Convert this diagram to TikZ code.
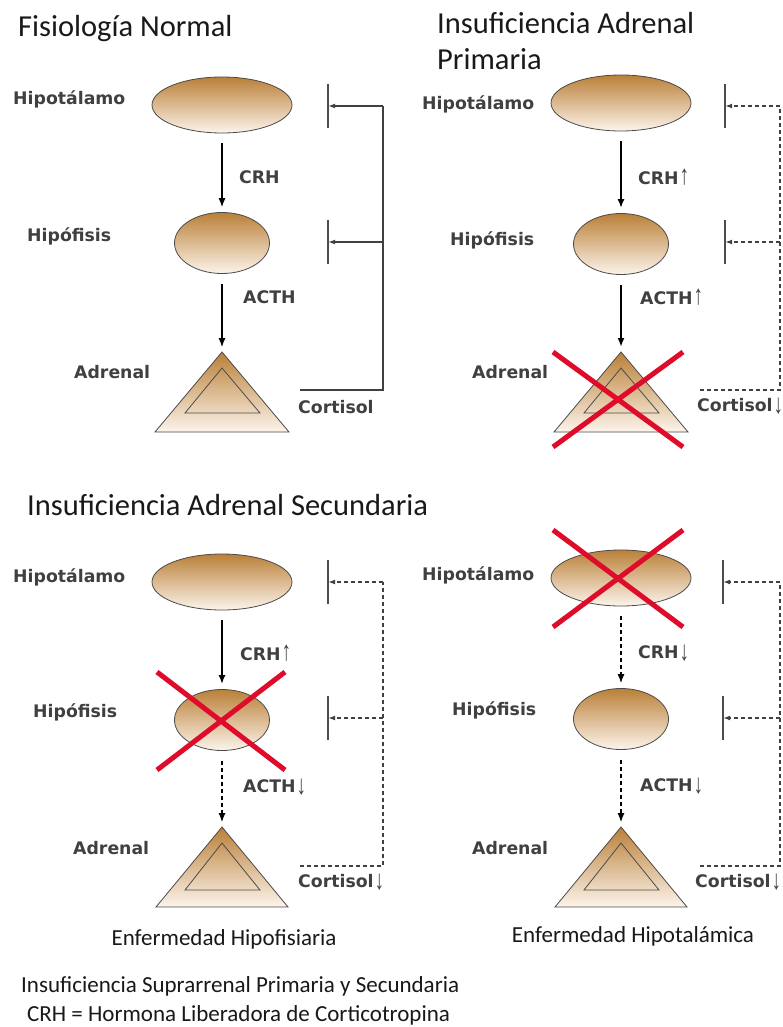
\documentclass[tikz,border=0pt]{standalone}
\usepackage{fontspec}
\usepackage{graphicx}
\setmainfont{Carlito}
\newfontfamily\labfont{DejaVu Sans}
\newfontfamily\arrfont{Liberation Sans}
\usetikzlibrary{shapes.geometric,arrows.meta}
\definecolor{glandtop}{RGB}{186,128,56}
\definecolor{glandbot}{RGB}{252,244,235}
\definecolor{crossred}{RGB}{222,12,42}
\definecolor{inkgray}{RGB}{75,75,75}
\newcommand{\hup}{\kern1pt\scalebox{1.1}[1.6]{\arrfont\bfseries ↑}}
\newcommand{\hdown}{\kern1pt\raisebox{-2pt}{\scalebox{1.1}[1.6]{\arrfont\bfseries ↓}}}
\begin{document}
\begin{tikzpicture}[x=1pt, y=-1pt,
    gland/.style={draw=inkgray, line width=0.8pt, top color=glandtop, bottom color=glandbot},
    hyp/.style={gland, ellipse, minimum width=140pt, minimum height=56pt, inner sep=0pt},
    pit/.style={gland, ellipse, minimum width=95pt, minimum height=61pt, inner sep=0pt},
    lab/.style={font=\labfont\bfseries\fontsize{17.3}{20}\selectfont, text=black!75, anchor=west, inner sep=0pt},
    title/.style={font=\fontsize{30.5}{36}\selectfont, text=black!90, anchor=base west, inner sep=0pt},
    note/.style={font=\fontsize{23}{26}\selectfont, text=black!90, inner sep=0pt},
    flow/.style={-{Latex[length=9pt,width=7pt]}, line width=1.1pt, shorten <=10pt, shorten >=5pt},
    strong/.style={flow, line width=2.2pt},
    weak/.style={flow, dash pattern=on 4pt off 3pt},
    fb/.style={line width=1.3pt, draw=black!75},
    fbd/.style={fb, dash pattern=on 4pt off 3pt},
    fbarrow/.style={-{Latex[length=7pt,width=5pt]}},
    inhib/.style={minimum height=44pt, minimum width=0pt, inner sep=0pt},
    barline/.style={line width=1.8pt, draw=black!70},
    cross/.style={draw=crossred, line width=5pt}]
  \fill[white] (0,0) rectangle (782,1027);
  \useasboundingbox (0,0) rectangle (782,1027);

  % Fisiologia normal
  \node[title] (t1) at (18,37) {Fisiología Normal};
  \node[hyp] (hyp1) at (222,105) {};
  \node[pit] (pit1) at (222,243) {};
  \coordinate (adr1) at (222,352);
  \path[gland] (adr1) -- ++(-67,80) -- ++(134,0) -- cycle;
  \draw[draw=inkgray, line width=0.8pt] ([yshift=-16pt]adr1) -- ++(-37,45) -- ++(75,0) -- cycle;
  \node[lab] (l11) at (13,99) {Hipotálamo};
  \node[lab] (l12) at (27,236) {Hipófisis};
  \node[lab] (l13) at (74,372) {Adrenal};
  \node[lab] (crh1) at (239,177) {CRH};
  \node[lab] (acth1) at (243,297) {ACTH};
  \node[lab] (cor1) at (298,407) {Cortisol};
  \draw[flow] (hyp1) -- (pit1);
  \draw[flow] (pit1) -- (adr1);
  \node[inhib] (b11) at (328,106) {};
  \node[inhib] (b12) at (328,242) {};
  \draw[barline] (b11.north) -- (b11.south);
  \draw[barline] (b12.north) -- (b12.south);
  \coordinate (s1) at (300,390);
  \coordinate (k11) at (383,106);
  \coordinate (k12) at (383,242);
  \draw[fb] (s1) -| (k11);
  \draw[fb, fbarrow] (k11) -- (b11);
  \draw[fb, fbarrow] (k12) -- (b12);

  % Insuficiencia adrenal primaria
  \node[title] (t2) at (437,34) {Insuficiencia Adrenal};
  \node[title] (t2b) at (437,70) {Primaria};
  \node[hyp] (hyp2) at (621,103) {};
  \node[pit] (pit2) at (621,244) {};
  \coordinate (adr2) at (621,352);
  \path[gland] (adr2) -- ++(-67,80) -- ++(134,0) -- cycle;
  \draw[draw=inkgray, line width=0.8pt] ([yshift=-16pt]adr2) -- ++(-37,45) -- ++(75,0) -- cycle;
  \node[lab] (l21) at (422,104) {Hipotálamo};
  \node[lab] (l22) at (450,240) {Hipófisis};
  \node[lab] (l23) at (472,372) {Adrenal};
  \node[lab] (crh2) at (638,177) {CRH\hup};
  \node[lab] (acth2) at (640,297) {ACTH\hup};
  \node[lab] (cor2) at (697,406) {Cortisol\hdown};
  \draw[strong] (hyp2) -- (pit2);
  \draw[strong] (pit2) -- (adr2);
  \draw[cross] (553,352) -- (683,447);
  \draw[cross] (683,352) -- (553,447);
  \node[inhib] (b21) at (725,106) {};
  \node[inhib] (b22) at (725,242) {};
  \draw[barline] (b21.north) -- (b21.south);
  \draw[barline] (b22.north) -- (b22.south);
  \coordinate (s2) at (700,390);
  \coordinate (k21) at (780,106);
  \coordinate (k22) at (780,242);
  \draw[fbd] (s2) -| (k21);
  \draw[fbd, fbarrow] (k21) -- (b21);
  \draw[fbd, fbarrow] (k22) -- (b22);

  % Insuficiencia adrenal secundaria: enfermedad hipofisiaria
  \node[title] (t3) at (27,515) {Insuficiencia Adrenal Secundaria};
  \node[hyp] (hyp3) at (222,582) {};
  \node[pit] (pit3) at (222,720) {};
  \coordinate (adr3) at (222,827);
  \path[gland] (adr3) -- ++(-66,80) -- ++(132,0) -- cycle;
  \draw[draw=inkgray, line width=0.8pt] ([yshift=-16pt]adr3) -- ++(-37,47) -- ++(75,0) -- cycle;
  \node[lab] (l31) at (13,577) {Hipotálamo};
  \node[lab] (l32) at (33,712) {Hipófisis};
  \node[lab] (l33) at (73,848) {Adrenal};
  \node[lab] (crh3) at (240,653) {CRH\hup};
  \node[lab] (acth3) at (243,787) {ACTH\hdown};
  \node[lab] (cor3) at (298,882) {Cortisol\hdown};
  \draw[strong] (hyp3) -- (pit3);
  \draw[weak] (pit3) -- (adr3);
  \draw[cross] (157,672) -- (285,770);
  \draw[cross] (285,672) -- (157,770);
  \node[inhib] (b31) at (328,582) {};
  \node[inhib] (b32) at (328,718) {};
  \draw[barline] (b31.north) -- (b31.south);
  \draw[barline] (b32.north) -- (b32.south);
  \coordinate (s3) at (300,866);
  \coordinate (k31) at (383,582);
  \coordinate (k32) at (383,718);
  \draw[fbd] (s3) -| (k31);
  \draw[fbd, fbarrow] (k31) -- (b31);
  \draw[fbd, fbarrow] (k32) -- (b32);
  \node[note, anchor=base] (e3) at (224,945) {Enfermedad Hipofisiaria};

  % enfermedad hipotalamica
  \node[hyp] (hyp4) at (621,578) {};
  \node[pit] (pit4) at (621,719) {};
  \coordinate (adr4) at (621,827);
  \path[gland] (adr4) -- ++(-66,80) -- ++(132,0) -- cycle;
  \draw[draw=inkgray, line width=0.8pt] ([yshift=-16pt]adr4) -- ++(-37,47) -- ++(75,0) -- cycle;
  \node[lab] (l41) at (422,575) {Hipotálamo};
  \node[lab] (l42) at (452,710) {Hipófisis};
  \node[lab] (l43) at (472,848) {Adrenal};
  \node[lab] (crh4) at (638,653) {CRH\hdown};
  \node[lab] (acth4) at (640,786) {ACTH\hdown};
  \node[lab] (cor4) at (695,882) {Cortisol\hdown};
  \draw[weak] (hyp4) -- (pit4);
  \draw[weak] (pit4) -- (adr4);
  \draw[cross] (553,530) -- (683,627);
  \draw[cross] (683,530) -- (553,627);
  \node[inhib] (b41) at (723,582) {};
  \node[inhib] (b42) at (723,718) {};
  \draw[barline] (b41.north) -- (b41.south);
  \draw[barline] (b42.north) -- (b42.south);
  \coordinate (s4) at (700,866);
  \coordinate (k41) at (780,582);
  \coordinate (k42) at (780,718);
  \draw[fbd] (s4) -| (k41);
  \draw[fbd, fbarrow] (k41) -- (b41);
  \draw[fbd, fbarrow] (k42) -- (b42);
  \node[note, anchor=base] (e4) at (633,942) {Enfermedad Hipotalámica};

  \node[note, anchor=base west] (n1) at (21,992) {Insuficiencia Suprarrenal Primaria y Secundaria};
  \node[note, anchor=base west] (n2) at (27,1021) {CRH = Hormona Liberadora de Corticotropina};
\end{tikzpicture}
\end{document}
